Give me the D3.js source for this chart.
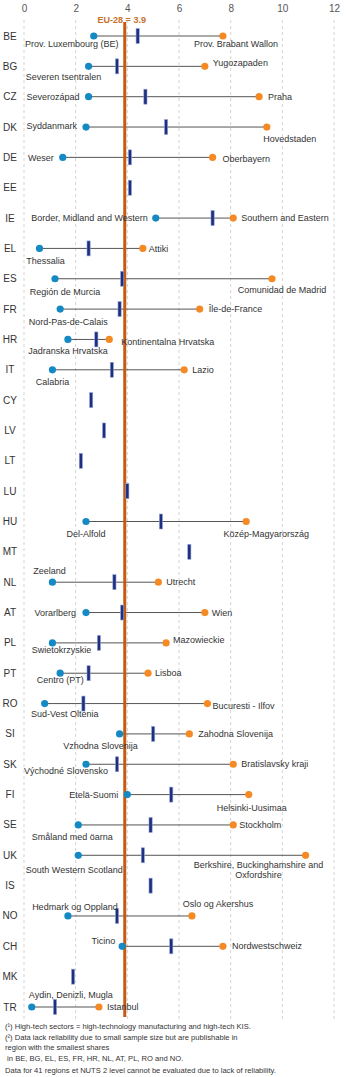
<!DOCTYPE html>
<html>
<head>
<meta charset="utf-8">
<script src="https://cdn.jsdelivr.net/npm/d3@7"></script>
<style>
  body { margin: 0; background: #fff; }
  svg { font-family: "Liberation Sans", Arial, sans-serif; }
</style>
</head>
<body>
<div id="chart"></div>
<script>
// values (share of employment in high-tech sectors, %)
const countries = ["BE","BG","CZ","DK","DE","EE","IE","EL","ES","FR","HR","IT","CY","LV","LT","LU","HU","MT","NL","AT","PL","PT","RO","SI","SK","FI","SE","UK","IS","NO","CH","MK","TR"];
const national = [4.4,3.6,4.7,5.5,4.1,4.1,7.3,2.5,3.8,3.7,2.8,3.4,2.6,3.1,2.2,4.0,5.3,6.4,3.5,3.8,2.9,2.5,2.3,5.0,3.6,5.7,4.9,4.6,4.9,3.6,5.7,1.9,1.2];
const minVal = [2.7,2.5,2.5,2.4,1.5,null,5.1,0.6,1.2,1.4,1.7,1.1,null,null,null,null,2.4,null,1.1,2.4,1.1,1.4,0.8,3.7,2.4,4.0,2.1,2.1,null,1.7,3.8,null,0.3];
const maxVal = [7.7,7.0,9.1,9.4,7.3,null,8.1,4.6,9.6,6.8,3.3,6.2,null,null,null,null,8.6,null,5.2,7.0,5.5,4.8,7.1,6.4,8.1,8.7,8.1,10.9,null,6.5,7.7,null,2.9];
const minRegion = ["Prov. Luxembourg (BE)","Severen tsentralen","Severozápad","Syddanmark","Weser","","Border, Midland and Western","Thessalia","Región de Murcia","Nord-Pas-de-Calais","Jadranska Hrvatska","Calabria","","","","","Del-Alfold","","Zeeland","Vorarlberg","Swietokrzyskie","Centro (PT)","Sud-Vest Oltenia","Vzhodna Slovenija","Východné Slovensko","Etelä-Suomi","Småland med öarna","South Western Scotland","","Hedmark og Oppland","Ticino","","Aydin, Denizli, Mugla"];
const maxRegion = ["Prov. Brabant Wallon","Yugozapaden","Praha","Hovedstaden","Oberbayern","","Southern and Eastern","Attiki","Comunidad de Madrid","Île-de-France","Kontinentalna Hrvatska","Lazio","","","","","Közép-Magyarország","","Utrecht","Wien","Mazowieckie","Lisboa","Bucuresti - Ilfov","Zahodna Slovenija","Bratislavsky kraji","Helsinki-Uusimaa","Stockholm","Berkshire, Buckinghamshire and|Oxfordshire","","Oslo og Akershus","Nordwestschweiz","","Istanbul"];
const euAverage = 3.9;
const euLabel = "EU-28 = 3.9";
const xTicks = [0,2,4,6,8,10,12];
const footnotes = [
  "(\u00b9) High-tech sectors = high-technology manufacturing and high-tech KIS.",
  "(\u00b2) Data lack reliability due to small sample size but are publishable in",
  "region with the smallest shares",
  " in BE, BG, EL, ES, FR, HR, NL, AT, PL, RO and NO.",
  "Data for 41 regions et NUTS 2 level cannot be evaluated due to lack of reliability."
];

// label placement relative to its dot: [anchor, dx, dy]
const minLabelPos = [["middle",-22,8],["middle",-25,11],["end",-9,0],["end",-9,-1],["end",-9,0],null,["end",-8,0],["middle",6,12],["middle",10,13],["middle",8,13],["middle",0,11],["middle",0,12],null,null,null,null,["middle",0,12],null,["middle",-3,-11],["end",-10,0],["middle",9,7],["middle",0,7],["middle",20,10],["middle",-19,12],["middle",-20,7],["end",-9,0],["middle",-6,12],["middle",-4,15],null,["middle",7,-9],["end",-7,-5],null,["middle",39,-12]];
const maxLabelPos = [["middle",13,8],["start",8,-3],["start",9,0],["middle",23,12],["start",10,1],null,["start",8,0],["start",6,0],["middle",10,11],["start",9,0],["start",12,2],["start",8,0],null,null,null,null,["middle",20,12],null,["start",8,0],["start",7,0],["start",7,-3],["start",7,0],["start",5,2],["start",9,0],["start",8,0],["middle",3,13],["start",6,0],["middle",-47,10],null,["middle",26,-12],["start",9,0],null,["start",8,0]];

const W = 350, H = 1077;
const svg = d3.select("#chart").append("svg").attr("width", W).attr("height", H);

const x = d3.scaleLinear().domain([0, 12]).range([24, 334]);
const y = d3.scalePoint().domain(countries).range([36, 1007]);

// gridlines
svg.append("g").selectAll("line").data(xTicks).join("line")
  .attr("x1", d => x(d)).attr("x2", d => x(d))
  .attr("y1", 20).attr("y2", 1022)
  .attr("stroke", "#c8c8c8").attr("stroke-width", 0.8)
  .attr("stroke-dasharray", "3,3");

// top axis
const ax = svg.append("g").attr("transform", "translate(0,15)")
  .call(d3.axisTop(x).tickValues(xTicks).tickSize(0).tickPadding(3).tickFormat(d3.format("d")));
ax.select(".domain").remove();
ax.selectAll("text").attr("font-size", 10).attr("fill", "#555").attr("font-family", "Liberation Sans, Arial, sans-serif");

const rows = countries.map((c, i) => ({
  c, nat: national[i], lo: minVal[i], hi: maxVal[i],
  loName: minRegion[i], hiName: maxRegion[i],
  loPos: minLabelPos[i], hiPos: maxLabelPos[i]
}));
const ranged = rows.filter(d => d.lo != null);

// connectors
svg.append("g").selectAll("line").data(ranged).join("line")
  .attr("x1", d => x(d.lo)).attr("x2", d => x(d.hi))
  .attr("y1", d => y(d.c)).attr("y2", d => y(d.c))
  .attr("stroke", "#555").attr("stroke-width", 1);

// EU average line
svg.append("line")
  .attr("x1", x(euAverage)).attr("x2", x(euAverage))
  .attr("y1", 22).attr("y2", 1017)
  .attr("stroke", "#c55a11").attr("stroke-width", 3);
svg.append("text")
  .attr("x", x(euAverage) - 3).attr("y", 23)
  .attr("text-anchor", "middle").attr("font-size", 9).attr("font-weight", "bold")
  .attr("fill", "#c8712a").text(euLabel);

// country codes
svg.append("g").selectAll("text").data(rows).join("text")
  .attr("x", 10).attr("y", d => y(d.c)).attr("dy", "0.35em")
  .attr("text-anchor", "middle").attr("font-size", 10).attr("fill", "#333")
  .text(d => d.c);

// national bars
svg.append("g").selectAll("rect").data(rows).join("rect")
  .attr("x", d => x(d.nat) - 1.6).attr("y", d => y(d.c) - 7.5)
  .attr("width", 3.2).attr("height", 15)
  .attr("fill", "#1d2f80").attr("stroke", "#9aa6d6").attr("stroke-width", 0.6);

// dots
svg.append("g").selectAll("circle").data(ranged).join("circle")
  .attr("cx", d => x(d.lo)).attr("cy", d => y(d.c)).attr("r", 3.6)
  .attr("fill", "#1589c4");
svg.append("g").selectAll("circle").data(ranged).join("circle")
  .attr("cx", d => x(d.hi)).attr("cy", d => y(d.c)).attr("r", 3.6)
  .attr("fill", "#f58a24");

// region labels
function addLabels(key, posKey, valKey) {
  svg.append("g").selectAll("text").data(ranged).join("text")
    .attr("x", d => x(d[valKey]) + d[posKey][1])
    .attr("y", d => y(d.c) + d[posKey][2])
    .attr("text-anchor", d => d[posKey][0])
    .attr("font-size", 9).attr("fill", "#333")
    .each(function(d) {
      const parts = d[key].split("|");
      const t = d3.select(this);
      const x0 = x(d[valKey]) + d[posKey][1];
      parts.forEach((p, k) => {
        t.append("tspan").attr("x", x0)
          .attr("dy", k === 0 ? "0.35em" : "1.1em").text(p);
      });
    });
}
addLabels("loName", "loPos", "lo");
addLabels("hiName", "hiPos", "hi");

// footnotes
svg.append("g").selectAll("text").data(footnotes).join("text")
  .attr("x", 5).attr("y", (d, i) => [1029, 1040, 1050, 1061, 1073][i])
  .attr("font-size", 7.6).attr("fill", "#333")
  .attr("xml:space", "preserve")
  .text(d => d);
</script>
</body>
</html>
